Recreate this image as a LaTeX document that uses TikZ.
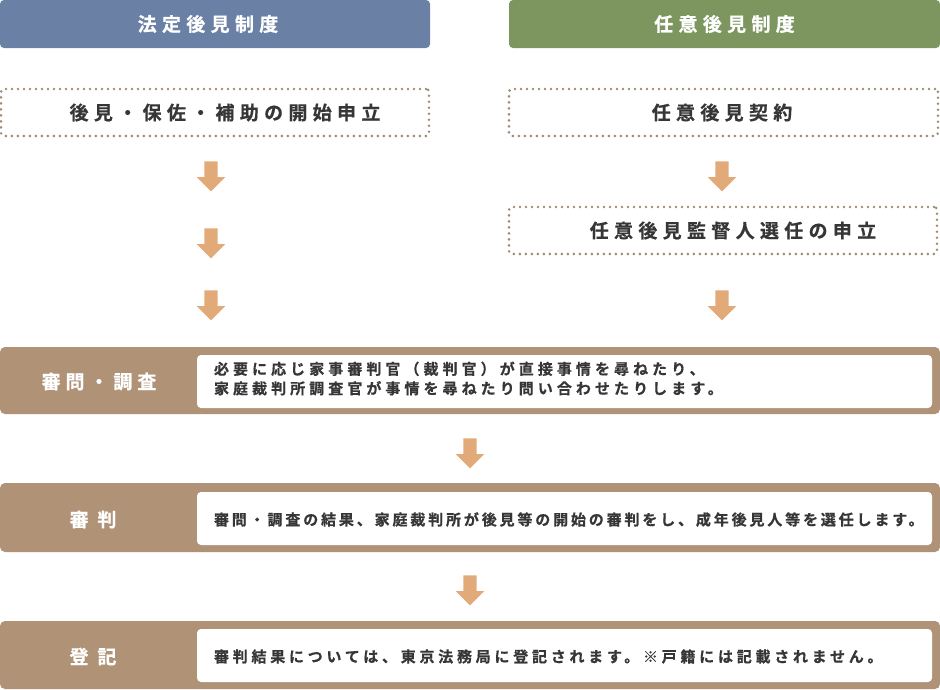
\documentclass[tikz,border=0pt]{standalone}
\usepackage{fontspec}
\newfontfamily\jp{Noto Sans CJK JP Bold}[FakeBold=0.6]
\usetikzlibrary{shapes.arrows}
\definecolor{hblue}{HTML}{6A80A4}
\definecolor{hgreen}{HTML}{7D9660}
\definecolor{brownrow}{HTML}{B09276}
\definecolor{arrowc}{HTML}{E2AA78}
\definecolor{dotc}{HTML}{A08C72}
\definecolor{txt}{HTML}{363636}
\begin{document}
\begin{tikzpicture}[x=1pt,y=-1pt,
  every node/.style={inner sep=0pt, outer sep=0pt},
  hdrbox/.style={rounded corners=4pt, minimum width=#1, minimum height=48pt},
  hdrtext/.style={text=white, font={\jp\fontsize{19}{22}\selectfont\addfontfeature{LetterSpace=28}}},
  dotbox/.style={draw=dotc, line width=2.9pt, dash pattern=on 0pt off 6pt, line cap=round, rounded corners=3pt, minimum width=#1, minimum height=47pt},
  dottext/.style={text=txt, font={\jp\fontsize{19}{22}\selectfont\addfontfeature{LetterSpace=28}}},
  downarrow/.style={single arrow, shape border rotate=270, fill=arrowc, minimum height=30pt, minimum width=28pt, single arrow head extend=7.5pt, single arrow head indent=0pt, inner sep=6.5pt},
  rowbox/.style={fill=brownrow, rounded corners=5pt, minimum width=940pt, minimum height=#1},
  whitebox/.style={fill=white, rounded corners=4pt, minimum width=735pt, minimum height=53pt},
  rowlabel/.style={text=white, font={\jp\fontsize{19}{22}\selectfont\addfontfeature{LetterSpace=#1}}},
  bodytext/.style={text=txt, anchor=west, align=left, font={\jp\fontsize{15}{19.5}\selectfont\addfontfeature{LetterSpace=#1}}}
]
\useasboundingbox (0,0) rectangle (940,689);

% headers
\node[hdrbox=430pt, fill=hblue] (hdrL) at (215,24) {};
\node[hdrtext] (hdrLt) at (208,24) {法定後見制度};
\node[hdrbox=431pt, fill=hgreen] (hdrR) at (724.5,24) {};
\node[hdrtext] (hdrRt) at (724.5,24) {任意後見制度};

% dotted boxes
\node[dotbox=428pt] (appL) at (215,112.5) {};
\node[dottext] (appLt) at (225,112.5) {後見・保佐・補助の開始申立};
\node[dotbox=429pt] (appR) at (723.5,112.5) {};
\node[dottext] (appRt) at (722,112.5) {任意後見契約};
\node[dotbox=428pt] (supR) at (723,230.5) {};
\node[dottext] (supRt) at (733,230.5) {任意後見監督人選任の申立};

% arrows
\node[downarrow] (aL1) at (211,173) {};
\node[downarrow] (aL2) at (211,240) {};
\node[downarrow] (aL3) at (211,302) {};
\node[downarrow] (aR1) at (722,173) {};
\node[downarrow] (aR3) at (722,302) {};
\node[downarrow] (aM1) at (470,450) {};
\node[downarrow] (aM2) at (470,587) {};

% rows
\node[rowbox=67pt] (row1) at (470,380.5) {};
\node[whitebox] (w1) at (564.5,381.5) {};
\node[rowlabel=26] (l1) at (99,381.5) {審問・調査};
\node[bodytext=27] (b1) at (214,378.5) {必要に応じ家事審判官（裁判官）が直接事情を尋ねたり、\\家庭裁判所調査官が事情を尋ねたり問い合わせたりします。};

\node[rowbox=69pt] (row2) at (470,517.5) {};
\node[whitebox] (w2) at (564.5,518.5) {};
\node[rowlabel=47] (l2) at (93,519.5) {審判};
\node[bodytext=19] (b2) at (214,519.5) {審問・調査の結果、家庭裁判所が後見等の開始の審判をし、成年後見人等を選任します。};

\node[rowbox=68pt] (row3) at (470,655) {};
\node[whitebox] (w3) at (564.5,655.5) {};
\node[rowlabel=47] (l3) at (93,656.5) {登記};
\node[bodytext=25] (b3) at (214,656.5) {審判結果については、東京法務局に登記されます。※戸籍には記載されません。};
\end{tikzpicture}
\end{document}
